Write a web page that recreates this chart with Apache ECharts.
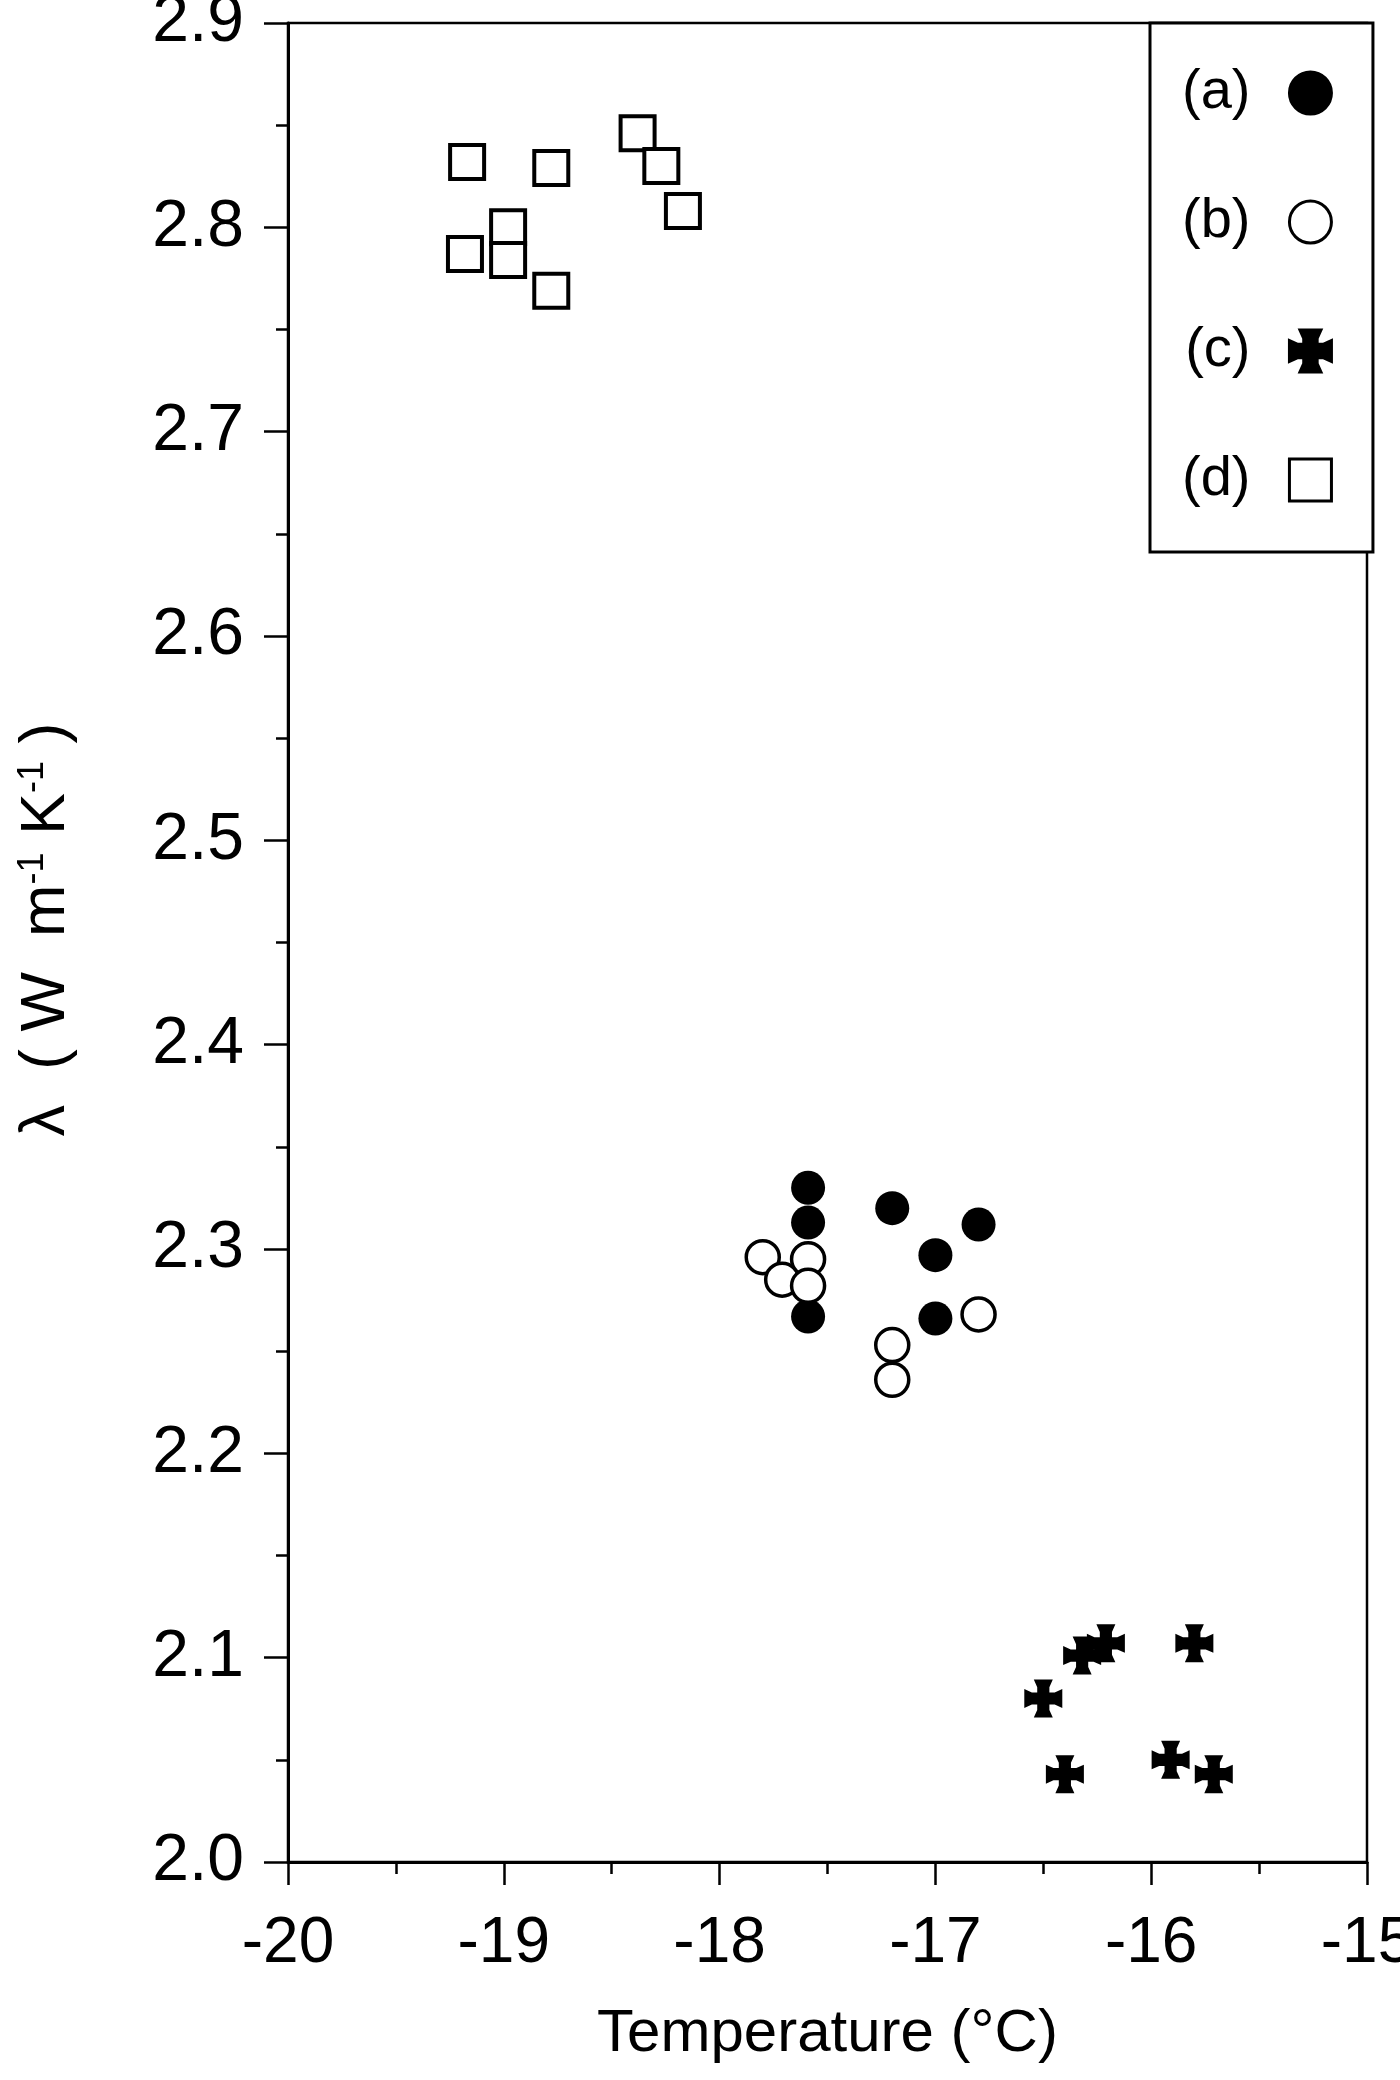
<!DOCTYPE html>
<html>
<head>
<meta charset="utf-8">
<title>Thermal conductivity vs temperature</title>
<script src="https://cdn.jsdelivr.net/npm/echarts@6/dist/echarts.min.js"></script>
<style>
  html, body { margin: 0; padding: 0; background: #fff; }
  #chart { width: 1400px; height: 2080px; }
</style>
</head>
<body>
<div id="chart"></div>
<script>
// temperature (°C) and conductivity values
var aTemp = [-17.59, -17.59, -17.59, -17.20, -16.80, -17.00, -17.00];
var aLam  = [2.330, 2.313, 2.267, 2.320, 2.312, 2.297, 2.266];
var bTemp = [-17.80, -17.71, -17.59, -17.59, -16.80, -17.20, -17.20];
var bLam  = [2.296, 2.285, 2.295, 2.282, 2.268, 2.253, 2.236];
var cTemp = [-16.50, -16.32, -16.21, -15.80, -16.40, -15.91, -15.71];
var cLam  = [2.080, 2.101, 2.107, 2.107, 2.043, 2.050, 2.043];
var dTemp = [-19.17, -18.78, -18.38, -18.27, -18.17, -18.98, -19.18, -18.98, -18.78];
var dLam  = [2.832, 2.829, 2.846, 2.830, 2.808, 2.800, 2.787, 2.784, 2.769];
var seriesNames = ['(a)', '(b)', '(c)', '(d)'];

var FONT = '"Liberation Sans", Arial, sans-serif';
// flared cross marker
var CROSS = 'path://M2.5,0 L7.5,0 L6.6,2 L6.6,3.4 L8,3.4 L10,2.5 L10,7.5 L8,6.6 L6.6,6.6 L6.6,8 L7.5,10 L2.5,10 L3.4,8 L3.4,6.6 L2,6.6 L0,7.5 L0,2.5 L2,3.4 L3.4,3.4 L3.4,2 Z';

function pairs(xs, ys) {
  var out = [];
  for (var i = 0; i < xs.length; i++) out.push([xs[i], ys[i]]);
  return out;
}

var myChart = echarts.init(document.getElementById('chart'));
var option = {
  backgroundColor: '#fff',
  animation: false,
  grid: {
    left: 288, right: 33, top: 23, bottom: 218,
    outerBoundsMode: 'none',
    containLabel: false,
    show: true, borderColor: '#000', borderWidth: 2.5
  },
  legend: {
    orient: 'vertical',
    left: 1150, top: 23,
    align: 'right',
    selectedMode: false,
    backgroundColor: '#fff',
    borderColor: '#000', borderWidth: 3,
    padding: [42, 40, 44, 32],
    itemGap: 73,
    itemWidth: 42, itemHeight: 42,
    itemStyle: { borderWidth: 3 },
    textStyle: { fontFamily: FONT, fontSize: 56, color: '#000', padding: [0, 34, 0, 0] },
    data: seriesNames
  },
  xAxis: {
    type: 'value',
    min: -20, max: -15, interval: 1,
    name: 'Temperature (°C)',
    nameLocation: 'middle',
    nameGap: 142,
    nameTextStyle: { fontFamily: FONT, fontSize: 60, color: '#000' },
    axisLine: { lineStyle: { color: '#000', width: 3 } },
    axisTick: { inside: false, length: 23, lineStyle: { color: '#000', width: 2.5 } },
    minorTick: { show: true, splitNumber: 2, length: 12, lineStyle: { color: '#000', width: 2.5 } },
    axisLabel: { fontFamily: FONT, fontSize: 64, color: '#000', margin: 50 },
    splitLine: { show: false }
  },
  yAxis: {
    type: 'value',
    min: 2.0, max: 2.9, interval: 0.1,
    name: '{t|λ  ( W  m}{s|-1}{t| K}{s|-1}{t| )}',
    nameLocation: 'middle',
    nameGap: 210,
    nameTextStyle: {
      color: '#000',
      padding: [0, 0, 0, 26],
      rich: {
        t: { fontFamily: FONT, fontSize: 63, color: '#000' },
        s: { fontFamily: FONT, fontSize: 36, color: '#000', verticalAlign: 'top' }
      }
    },
    axisLine: { lineStyle: { color: '#000', width: 3 } },
    axisTick: { inside: false, length: 24, lineStyle: { color: '#000', width: 2.5 } },
    minorTick: { show: true, splitNumber: 2, length: 12, lineStyle: { color: '#000', width: 2.5 } },
    axisLabel: {
      fontFamily: FONT, fontSize: 66, color: '#000', margin: 44,
      formatter: function (v) { return v.toFixed(1); }
    },
    splitLine: { show: false }
  },
  series: [
    {
      name: '(a)', type: 'scatter', symbol: 'circle', symbolSize: 34,
      itemStyle: { color: '#000', borderColor: '#000', borderWidth: 0, opacity: 1 },
      data: pairs(aTemp, aLam)
    },
    {
      name: '(b)', type: 'scatter', symbol: 'circle', symbolSize: 33,
      itemStyle: { color: '#fff', borderColor: '#000', borderWidth: 3.5, opacity: 1 },
      data: pairs(bTemp, bLam)
    },
    {
      name: '(c)', type: 'scatter', symbol: CROSS, symbolSize: 38,
      itemStyle: { color: '#000', borderColor: '#000', borderWidth: 0, opacity: 1 },
      data: pairs(cTemp, cLam)
    },
    {
      name: '(d)', type: 'scatter', symbol: 'rect', symbolSize: 34,
      itemStyle: { color: '#fff', borderColor: '#000', borderWidth: 4, opacity: 1 },
      data: pairs(dTemp, dLam)
    }
  ]
};
myChart.setOption(option);
</script>
</body>
</html>
